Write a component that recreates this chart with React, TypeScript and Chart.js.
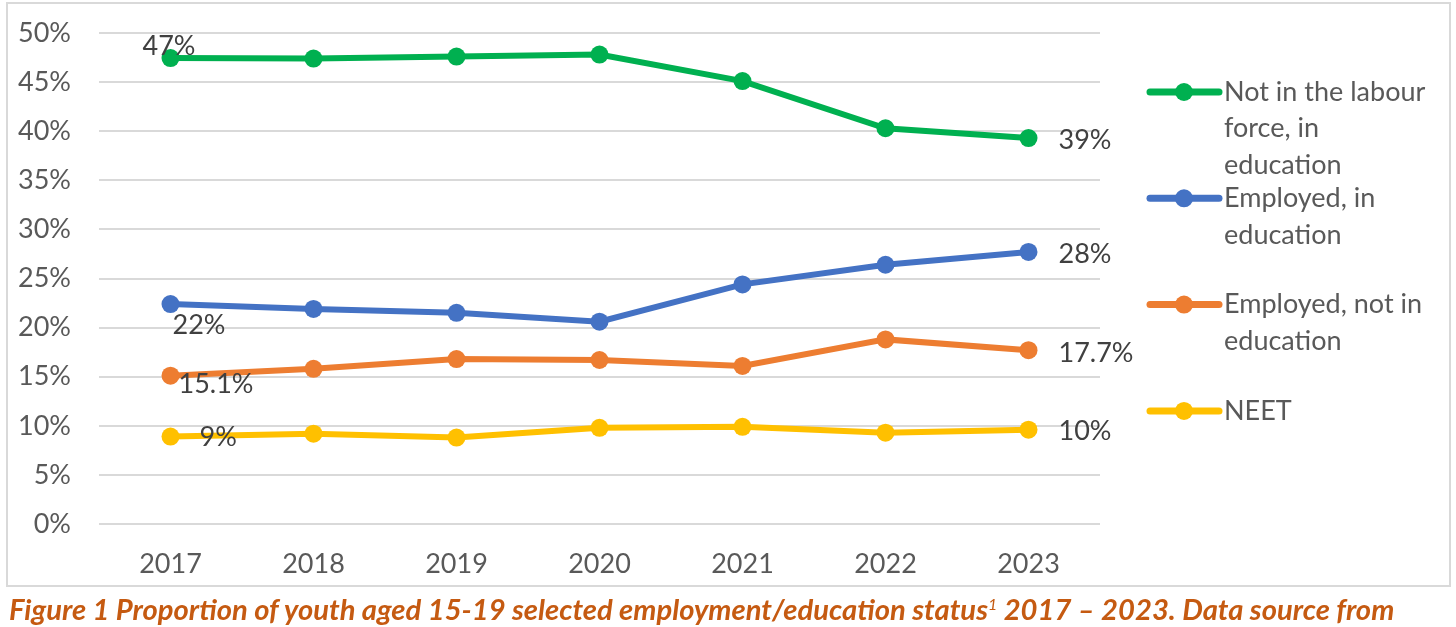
import React, { useEffect, useRef } from 'react';
import { Chart, registerables } from 'chart.js';

Chart.register(...registerables);

const YEARS = ['2017', '2018', '2019', '2020', '2021', '2022', '2023'];
const NOT_IN_LF_IN_EDU = [47.45, 47.4, 47.6, 47.8, 45.1, 40.3, 39.3];
const EMPLOYED_IN_EDU = [22.4, 21.9, 21.5, 20.6, 24.4, 26.4, 27.7];
const EMPLOYED_NOT_IN_EDU = [15.1, 15.8, 16.8, 16.7, 16.1, 18.8, 17.7];
const NEET = [8.9, 9.2, 8.8, 9.8, 9.9, 9.3, 9.6];

const SERIES_NAMES = [
  'Not in the labour force, in education',
  'Employed, in education',
  'Employed, not in education',
  'NEET',
];
const LEGEND_LINES = [
  ['Not in the labour', 'force, in', 'education'],
  ['Employed, in', 'education'],
  ['Employed, not in', 'education'],
  ['NEET'],
];
const COLORS = ['#00B050', '#4472C4', '#ED7D31', '#FFC000'];

// data label texts: [seriesIndex, pointIndex, text]
const LABEL_TEXTS: [number, number, string][] = [
  [0, 0, '47%'],
  [0, 6, '39%'],
  [1, 0, '22%'],
  [1, 6, '28%'],
  [2, 0, '15.1%'],
  [2, 6, '17.7%'],
  [3, 0, '9%'],
  [3, 6, '10%'],
];
// placement of each label relative to its point (left edge dx, centre dy)
const LABEL_OFFSETS: [number, number][] = [
  [-28, -12],
  [30, 2],
  [2, 21],
  [30, 2],
  [8, 9],
  [30, 3],
  [29, 1],
  [30, 2],
];

const FONT = 'Lato, "Open Sans", sans-serif';
const FS = 27;

export default function App() {
  const ref = useRef<HTMLCanvasElement | null>(null);

  useEffect(() => {
    if (!ref.current) return;
    const labelPlugin = {
      id: 'customLabels',
      afterDatasetsDraw(chart: any) {
        const ctx = chart.ctx;
        ctx.save();
        ctx.font = `${FS}px ${FONT}`;
        ctx.fillStyle = '#404040';
        ctx.textAlign = 'left';
        ctx.textBaseline = 'middle';
        LABEL_TEXTS.forEach(([s, i, t], k) => {
          const el = chart.getDatasetMeta(s).data[i];
          const [dx, dy] = LABEL_OFFSETS[k];
          ctx.fillText(t, el.x + dx, el.y + dy);
        });
        // legend
        const lx0 = 1150;
        const lx1 = 1219;
        const mx = 1184;
        const tx = 1224;
        const top = 92;
        const step = 106.3;
        const lh = 36.5;
        LEGEND_LINES.forEach((lines, k) => {
          const y = top + k * step;
          ctx.strokeStyle = COLORS[k];
          ctx.lineWidth = 7;
          ctx.lineCap = 'round';
          ctx.beginPath();
          ctx.moveTo(lx0, y);
          ctx.lineTo(lx1, y);
          ctx.stroke();
          ctx.fillStyle = COLORS[k];
          ctx.beginPath();
          ctx.arc(mx, y, 9, 0, Math.PI * 2);
          ctx.fill();
          ctx.fillStyle = '#595959';
          lines.forEach((ln, j) => ctx.fillText(ln, tx, y + j * lh));
        });
        ctx.restore();
      },
    };

    const series = [NOT_IN_LF_IN_EDU, EMPLOYED_IN_EDU, EMPLOYED_NOT_IN_EDU, NEET];
    const chart = new Chart(ref.current, {
      type: 'line',
      data: {
        labels: YEARS,
        datasets: series.map((d, k) => ({
          label: SERIES_NAMES[k],
          data: d,
          borderColor: COLORS[k],
          backgroundColor: COLORS[k],
          pointBackgroundColor: COLORS[k],
          pointBorderColor: COLORS[k],
          borderWidth: 6,
          pointRadius: 9,
          pointBorderWidth: 0,
          tension: 0,
          fill: false,
        })),
      },
      options: {
        responsive: false,
        animation: false,
        devicePixelRatio: 1,
        layout: { padding: { left: 0, right: 356, top: 33, bottom: 16 } },
        plugins: { legend: { display: false }, tooltip: { enabled: false } },
        scales: {
          x: {
            offset: true,
            grid: { display: false, drawTicks: false },
            border: { display: false },
            ticks: { color: '#595959', font: { family: FONT, size: FS }, padding: 24 },
            afterFit: (s: any) => {
              s.height = 50;
            },
          },
          y: {
            min: 0,
            max: 50,
            grid: { color: '#d9d9d9', lineWidth: 2, drawTicks: false },
            border: { display: false },
            ticks: {
              stepSize: 5,
              color: '#595959',
              font: { family: FONT, size: FS },
              padding: 28,
              callback: (v: any) => `${v}%`,
            },
            afterFit: (s: any) => {
              s.width = 99;
              s.paddingTop = 0;
              s.paddingBottom = 0;
            },
          },
        },
      },
      plugins: [labelPlugin],
    });
    return () => chart.destroy();
  }, []);

  return (
    <div
      style={{
        position: 'absolute',
        left: 0,
        top: 0,
        width: 1456,
        height: 627,
        background: '#fff',
        overflow: 'hidden',
      }}
    >
      <canvas
        ref={ref}
        width={1456}
        height={590}
        style={{ position: 'absolute', left: 0, top: 0, width: 1456, height: 590 }}
      />
      <div
        style={{
          position: 'absolute',
          left: 6,
          top: 2,
          width: 1441,
          height: 581,
          border: '2px solid #d9d9d9',
          pointerEvents: 'none',
        }}
      />
      <div
        style={{
          position: 'absolute',
          left: 9,
          top: 591,
          fontFamily: FONT,
          fontWeight: 700,
          fontStyle: 'italic',
          fontSize: 29.2,
          color: '#C55A11',
          whiteSpace: 'nowrap',
          lineHeight: '36px',
        }}
      >
        Figure 1 Proportion of youth aged 15-19 selected employment/education status
        <sup style={{ fontSize: 16, fontWeight: 400, verticalAlign: 'top', lineHeight: '26px' }}>1</sup> 2017 – 2023. Data source from
      </div>
    </div>
  );
}
